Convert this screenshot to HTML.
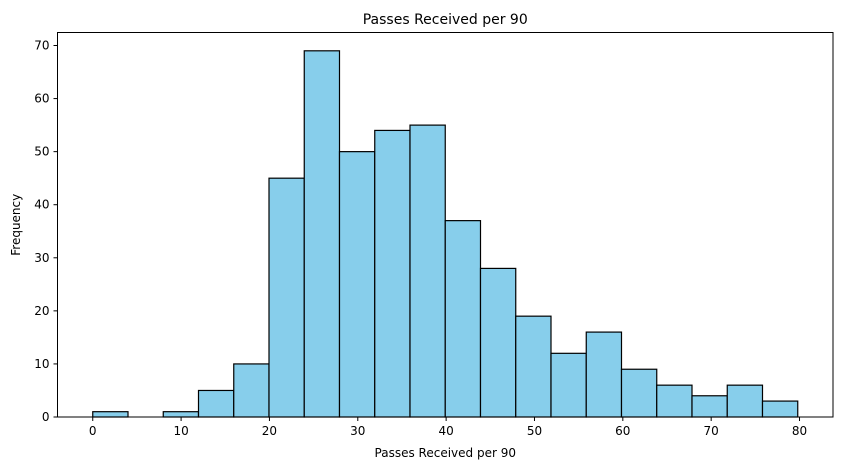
<!DOCTYPE html>
<html><head><meta charset="utf-8"><style>
body{margin:0;background:#fff;font-family:"Liberation Sans","DejaVu Sans",sans-serif;}
svg text{font-family:"DejaVu Sans","Liberation Sans",sans-serif;}
</style></head><body>
<svg id="chart" width="841" height="470" xmlns="http://www.w3.org/2000/svg">
<rect width="841" height="470" fill="#fff"/>
<g id="bars"></g>
<g id="axes"></g>
</svg>
<script>
const binStart = 0;
const binWidth = 3.99;
const counts = [1,0,1,5,10,45,69,50,54,55,37,28,19,12,16,9,6,4,6,3];
const xTicks = [0,10,20,30,40,50,60,70,80];
const yTicks = [0,10,20,30,40,50,60,70];

const L=57.5,R=833,T=32.5,B=417;
const xMin=-3.99,xMax=83.79,yMax=72.45;
const xs=v=>L+(v-xMin)/(xMax-xMin)*(R-L);
const ys=v=>B-v/yMax*(B-T);
const NS="http://www.w3.org/2000/svg";
function mk(tag,attrs,parent,text){const e=document.createElementNS(NS,tag);for(const k in attrs)e.setAttribute(k,attrs[k]);if(text!==undefined)e.textContent=text;parent.appendChild(e);return e;}
const bars=document.getElementById('bars'),axes=document.getElementById('axes');
counts.forEach((c,i)=>{
  if(c<=0)return;
  const x0=xs(binStart+i*binWidth),x1=xs(binStart+(i+1)*binWidth);
  const r=mk('rect',{x:x0,y:ys(c),width:x1-x0,height:B-ys(c),fill:'#87ceeb',stroke:'#000','stroke-width':1.2},bars);
  
  
});
const frame=mk('rect',{x:L,y:T,width:R-L,height:B-T,fill:'none',stroke:'#000','stroke-width':1},axes);


xTicks.forEach(t=>{
  const x=xs(t);
  mk('line',{x1:x,x2:x,y1:B,y2:B+4,stroke:'#000'},axes);
  const tx=mk('text',{x:x,y:B+18,'text-anchor':'middle','font-size':12},axes,t);
  
  
});
yTicks.forEach(t=>{
  const y=ys(t);
  mk('line',{x1:L-4,x2:L,y1:y,y2:y,stroke:'#000'},axes);
  const tx=mk('text',{x:L-8,y:y+4,'text-anchor':'end','font-size':12},axes,t);
  
  
});
const title=mk('text',{x:(L+R)/2,y:24,'text-anchor':'middle','font-size':14},axes,'Passes Received per 90');


const xl=mk('text',{x:(L+R)/2,y:457,'text-anchor':'middle','font-size':12},axes,'Passes Received per 90');


const yl=mk('text',{x:20,y:(T+B)/2,'text-anchor':'middle','font-size':12,transform:'rotate(-90 20 '+((T+B)/2)+')'},axes,'Frequency');


</script>
</body></html>
